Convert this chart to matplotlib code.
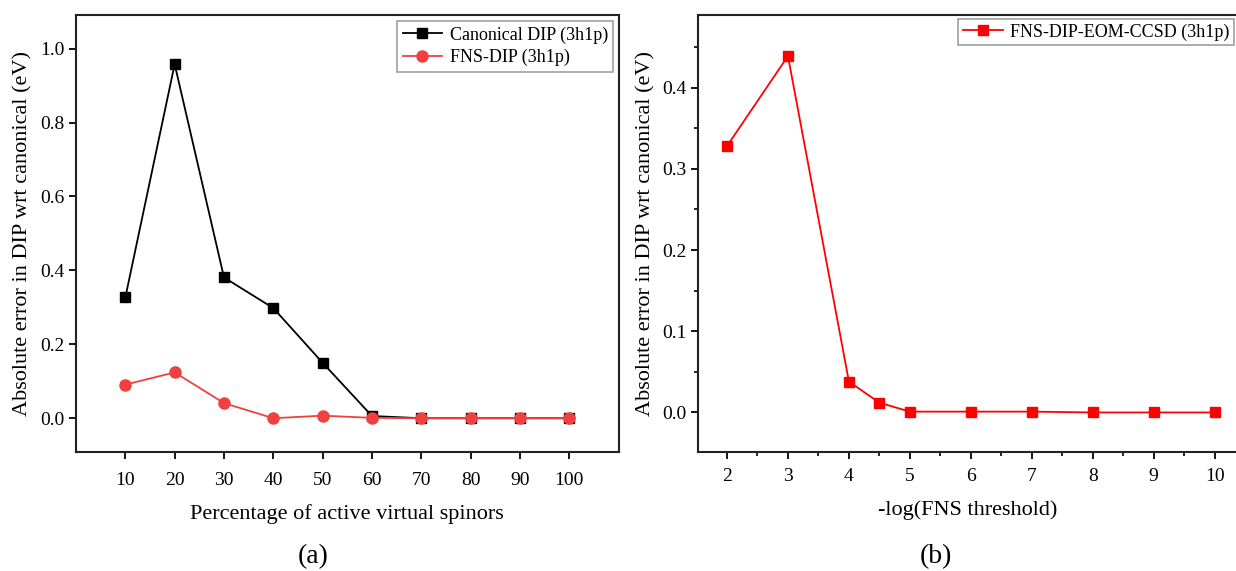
import matplotlib.pyplot as plt
from matplotlib.ticker import MultipleLocator

plt.rcParams['font.family'] = ['Liberation Serif', 'DejaVu Serif']
plt.rcParams['mathtext.fontset'] = 'stix'

# panel (a)
pct_active = [10, 20, 30, 40, 50, 60, 70, 80, 90, 100]
canonical_dip = [0.327, 0.958, 0.381, 0.298, 0.150, 0.006, 0.0, 0.0, 0.0, 0.0]
fns_dip = [0.091, 0.124, 0.041, 0.0, 0.007, 0.001, 0.0, 0.0, 0.0, 0.0]

# panel (b)
neg_log_thresh = [2, 3, 4, 4.5, 5, 6, 7, 8, 9, 10]
fns_eom = [0.328, 0.439, 0.038, 0.012, 0.001, 0.001, 0.001, 0.0, 0.0, 0.0]

ylabel = 'Absolute error in DIP wrt canonical (eV)'


def style_axes(ax):
    for s in ax.spines.values():
        s.set_linewidth(1.5)
        s.set_color('#222222')
    ax.tick_params(direction='out', width=1.3, length=5, labelsize=14)
    ax.tick_params(which='minor', direction='out', width=1.2, length=3)


fig = plt.figure(figsize=(12.36, 5.71), dpi=100)
ax1 = fig.add_axes([0.0615, 0.208, 0.439, 0.765])
ax2 = fig.add_axes([0.565, 0.208, 0.436, 0.765])

# (a)
ax1.plot(pct_active, canonical_dip, color='black', marker='s', markersize=7,
         linewidth=1.3, label='Canonical DIP (3h1p)')
ax1.plot(pct_active, fns_dip, color='#f04040', marker='o', markersize=8,
         linewidth=1.3, label='FNS-DIP (3h1p)')
ax1.set_xlim(0, 110)
ax1.set_ylim(-0.092, 1.09)
ax1.set_xticks(pct_active)
ax1.yaxis.set_major_locator(MultipleLocator(0.2))
ax1.yaxis.set_major_formatter(plt.FormatStrFormatter('%.1f'))
style_axes(ax1)
ax1.tick_params(axis='x', pad=9)
ax1.set_xlabel('Percentage of active virtual spinors', fontsize=16, labelpad=11)
ax1.set_ylabel(ylabel, fontsize=16, labelpad=5)
leg1 = ax1.legend(loc='upper right', fontsize=13, frameon=True, fancybox=False,
                  edgecolor='#888888', borderaxespad=0.3, handlelength=2.2,
                  borderpad=0.3, labelspacing=0.3, handletextpad=0.4)
leg1.get_frame().set_linewidth(1.2)
fig.text(0.253, 0.025, '(a)', fontsize=20, ha='center', va='center')

# (b)
ax2.plot(neg_log_thresh, fns_eom, color='red', marker='s', markersize=7,
         linewidth=1.3, label='FNS-DIP-EOM-CCSD (3h1p)')
ax2.set_xlim(1.53, 10.37)
ax2.set_ylim(-0.049, 0.489)
ax2.set_xticks(range(2, 11))
ax2.xaxis.set_minor_locator(MultipleLocator(0.5))
ax2.yaxis.set_major_locator(MultipleLocator(0.1))
ax2.yaxis.set_minor_locator(MultipleLocator(0.05))
ax2.yaxis.set_major_formatter(plt.FormatStrFormatter('%.1f'))
style_axes(ax2)
ax2.tick_params(axis='x', pad=6)
ax2.set_xlabel('-log(FNS threshold)', fontsize=16, labelpad=11)
ax2.set_ylabel(ylabel, fontsize=16, labelpad=5)
leg2 = ax2.legend(loc='upper right', fontsize=13, frameon=True, fancybox=False,
                  edgecolor='#888888', borderaxespad=0.2, handlelength=2.2,
                  borderpad=0.25, handletextpad=0.4)
leg2.get_frame().set_linewidth(1.2)
fig.text(0.757, 0.025, '(b)', fontsize=20, ha='center', va='center')

plt.savefig('out.png', dpi=100, facecolor='white')
